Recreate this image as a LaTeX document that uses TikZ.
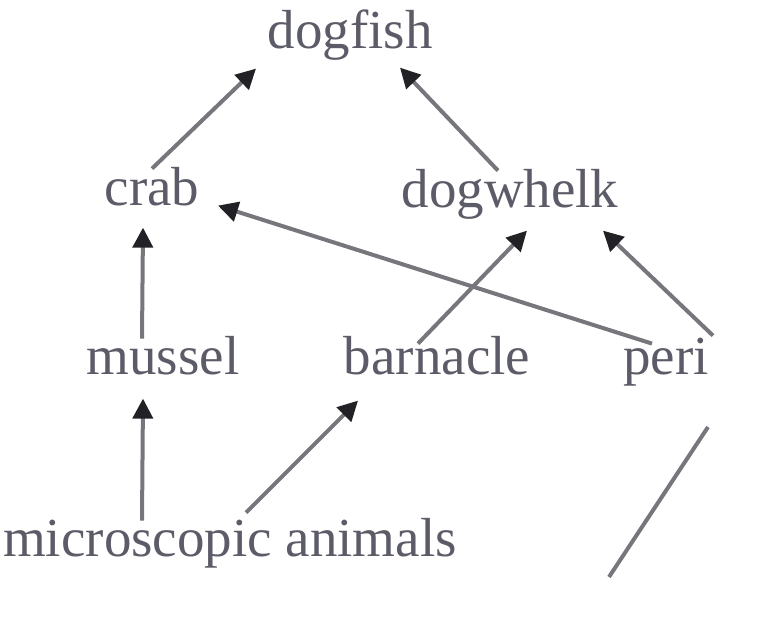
\documentclass[tikz,border=0pt]{standalone}
\usepackage{fontspec}
\setmainfont{Liberation Serif}
\usetikzlibrary{arrows.meta}
\definecolor{labelgray}{HTML}{5C5C68}
\definecolor{linkgray}{HTML}{76767C}
\definecolor{tipdark}{HTML}{222226}
\tikzset{
  species/.style={inner sep=0pt, anchor=base, text=labelgray,
    font=\fontsize{55}{60}\selectfont, text height=0.7em, text depth=0.22em},
  eats/.style={draw=linkgray, line width=4pt,
    -{Triangle[length=20pt, width=20pt, color=tipdark]}},
  plainlink/.style={draw=linkgray, line width=4pt}
}
\begin{document}
\begin{tikzpicture}[x=1pt, y=-1pt]
  \useasboundingbox (0,0) rectangle (772,624);

  % food web members
  \node[species] (dogfish)  at (350,48)  {dogfish};
  \node[species] (crab)     at (152,205) {crab};
  \node[species] (dogwhelk) at (510,207) {dogwhelk};
  \node[species] (mussel)   at (163,374) {mussel};
  \node[species] (barnacle) at (437,374) {barnacle};
  \node[species] (peri)     at (666,374) {peri};
  \node[species] (micro)    at (230,556) {microscopic animals};

  % who is eaten by whom
  \draw[eats] ([shift={(0,-34)}]crab.center)      -- ([shift={(-94,23)}]dogfish.center);
  \draw[eats] ([shift={(-12,-34)}]dogwhelk.center) -- ([shift={(50,22)}]dogfish.center);
  \draw[eats] ([shift={(-21,-33)}]mussel.center)   -- ([shift={(-9,25)}]crab.center);
  \draw[eats] ([shift={(-88,-33)}]micro.center)    -- ([shift={(-20,27)}]mussel.center);
  \draw[eats] ([shift={(16,-41)}]micro.center)     -- ([shift={(-79,29)}]barnacle.center);
  \draw[eats] ([shift={(-19,-28)}]barnacle.center) -- ([shift={(17,26)}]dogwhelk.center);
  \draw[eats] ([shift={(-14,-28)}]peri.center)     -- ([shift={(66,3)}]crab.center);
  \draw[eats] ([shift={(47,-36)}]peri.center)      -- ([shift={(93,26)}]dogwhelk.center);

  % loose line below peri
  \coordinate (looseTop) at (708,427);
  \coordinate (looseEnd) at (609,577);
  \draw[plainlink] (looseTop) -- (looseEnd);
\end{tikzpicture}
\end{document}
